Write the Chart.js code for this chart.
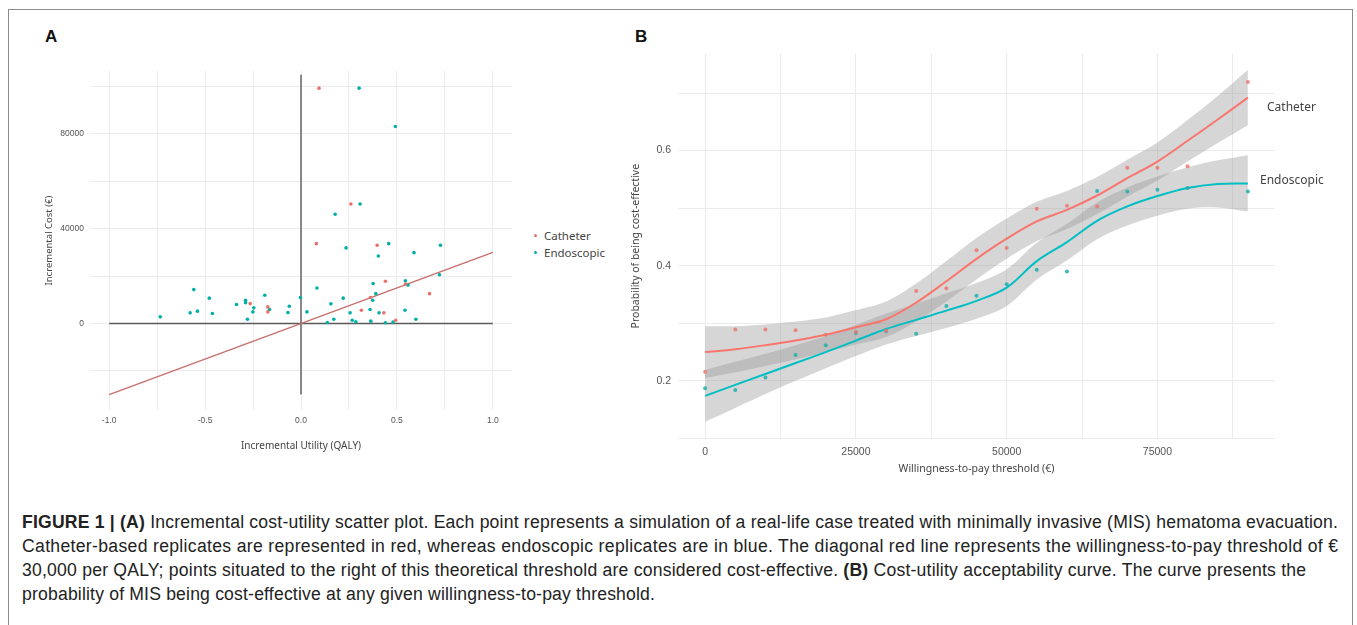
<!DOCTYPE html>
<html>
<head>
<meta charset="utf-8">
<script src="https://cdn.jsdelivr.net/npm/chart.js@4.4.1/dist/chart.umd.min.js"></script>
<style>
  html, body { margin: 0; padding: 0; background: #fff; }
  body { width: 1357px; height: 625px; overflow: hidden; position: relative; font-family: 'Liberation Sans', Arial, sans-serif; }
  .frame { position: absolute; left: 8px; top: 9px; width: 1345px; height: 640px; border: 1px solid #8c8c8c; box-sizing: border-box; }
  .tag { position: absolute; font: bold 17px 'Liberation Sans', Arial, sans-serif; color: #111; }
  .lbl { position: absolute; font-family: 'Noto Sans', sans-serif; color: #444; white-space: nowrap; line-height: 1; }
  .dot { position: absolute; width: 3px; height: 3px; border-radius: 50%; }
  .cap { position: absolute; left: 22px; font-size: 17.6px; color: #222; white-space: nowrap; line-height: 24px; }
  #boxA { position: absolute; left: 30px; top: 60px; width: 490px; height: 400px; }
  #boxB { position: absolute; left: 620px; top: 40px; width: 670px; height: 440px; }
</style>
</head>
<body>
<div class="frame"></div>
<div class="tag" style="left:45px; top:27px;">A</div>
<div class="tag" style="left:635px; top:27px;">B</div>

<div id="boxA"><canvas id="costChart"></canvas></div>
<div id="boxB"><canvas id="probChart"></canvas></div>

<!-- legenda do painel A -->
<div class="dot" style="left:534px; top:234px; background:#E8716B;"></div>
<div class="lbl" style="left:544px; top:230px; font-size:11.5px;">Catheter</div>
<div class="dot" style="left:534px; top:251px; background:#00B0A8;"></div>
<div class="lbl" style="left:544px; top:247px; font-size:11.5px;">Endoscopic</div>

<!-- rótulos diretos do painel B -->
<div class="lbl" style="left:1267px; top:101px; font-size:12px;">Catheter</div>
<div class="lbl" style="left:1260px; top:174px; font-size:12px;">Endoscopic</div>

<div class="cap" data-right="1338" style="top:510px;"><b>FIGURE 1 | (A)</b> Incremental cost-utility scatter plot. Each point represents a simulation of a real-life case treated with minimally invasive (MIS) hematoma evacuation.</div>
<div class="cap" data-right="1338" style="top:534px;">Catheter-based replicates are represented in red, whereas endoscopic replicates are in blue. The diagonal red line represents the willingness-to-pay threshold of €</div>
<div class="cap" data-right="1306" style="top:558px;">30,000 per QALY; points situated to the right of this theoretical threshold are considered cost-effective. <b>(B)</b> Cost-utility acceptability curve. The curve presents the</div>
<div class="cap" data-right="655" style="top:582px;">probability of MIS being cost-effective at any given willingness-to-pay threshold.</div>

<script>
// --- Painel A: dispersão custo-utilidade ---
const catUtil = [0.094, 0.26, 0.08, 0.397, 0.44, 0.545, 0.67, 0.362, -0.265, -0.173, -0.173, 0.315, 0.432, 0.494];
const catCost = [99300, 50400, 33700, 33000, 17800, 16600, 12600, 11000, 8400, 7000, 4900, 5600, 4500, 1400];

const endUtil = [0.303, 0.492, 0.308, 0.178, 0.235, 0.457, 0.727, 0.403, 0.589, 0.722, 0.376, 0.544,
  0.558, 0.083, 0.39, -0.559, -0.478, -0.189, -0.003, 0.22, 0.374, -0.289, -0.289, -0.336, -0.246,
  -0.061, 0.156, -0.164, -0.251, -0.54, -0.578, -0.462, -0.068, 0.031, 0.256, 0.36, 0.407, 0.542,
  -0.734, -0.279, 0.171, 0.267, 0.599, 0.364, 0.137, 0.286, 0.44, 0.48];
const endCost = [99300, 83100, 50400, 46100, 31900, 33700, 33000, 28500, 29900, 20600, 16900, 18000,
  16200, 15000, 12600, 14300, 10700, 11900, 11000, 10700, 9800, 9800, 8800, 8000, 6600,
  7300, 8300, 5900, 4900, 5200, 4500, 4200, 4600, 4900, 4500, 5900, 4500, 5600,
  2800, 1800, 1800, 1400, 1800, 1000, 400, 700, 300, 600];

// limiar de disposição a pagar (30 000 €/QALY) e eixos de referência
const wtpLineX = [-1, 1];
const wtpLineY = [-30000, 30000];
const hLineX = [-1, 1];
const hLineY = [0, 0];
const vLineX = [0, 0];
const vLineY = [-30000, 105000];

const utilGrid = [-1.0, -0.75, -0.5, -0.25, 0.0, 0.25, 0.5, 0.75, 1.0];
const utilTicks = [-1.0, -0.5, 0.0, 0.5, 1.0];
const costGrid = [-20000, 0, 20000, 40000, 60000, 80000, 100000];
const costTicks = [0, 40000, 80000];

// --- Painel B: curva de aceitabilidade ---
const wtp = [0, 5000, 10000, 15000, 20000, 25000, 30000, 35000, 40000, 45000, 50000,
  55000, 60000, 65000, 70000, 75000, 80000, 85000, 90000];
const catProb = [0.216, 0.289, 0.289, 0.288, 0.280, 0.285, 0.287, 0.356, 0.361, 0.427, 0.431,
  0.499, 0.504, 0.503, 0.570, 0.570, 0.573, null, 0.719];
const endProb = [0.187, 0.184, 0.206, 0.245, 0.262, 0.283, 0.286, 0.282, 0.330, 0.348, 0.368,
  0.393, 0.390, 0.530, 0.529, 0.532, 0.535, null, 0.529];

const catFit = [0.250, 0.255, 0.262, 0.270, 0.280, 0.293, 0.307, 0.336, 0.373, 0.412, 0.447,
  0.477, 0.497, 0.522, 0.552, 0.581, 0.617, 0.654, 0.692];
const catHi = [0.295, 0.295, 0.298, 0.303, 0.310, 0.323, 0.338, 0.369, 0.408, 0.448, 0.482,
  0.511, 0.530, 0.554, 0.584, 0.614, 0.653, 0.695, 0.740];
const catLo = [0.205, 0.215, 0.226, 0.237, 0.250, 0.263, 0.276, 0.303, 0.338, 0.376, 0.412,
  0.443, 0.464, 0.490, 0.520, 0.548, 0.581, 0.613, 0.644];

const endFit = [0.174, 0.193, 0.212, 0.231, 0.250, 0.270, 0.290, 0.306, 0.322, 0.339, 0.362,
  0.408, 0.441, 0.478, 0.503, 0.521, 0.535, 0.542, 0.543];
const endHi = [0.219, 0.233, 0.247, 0.262, 0.278, 0.297, 0.317, 0.334, 0.352, 0.370, 0.394,
  0.440, 0.473, 0.510, 0.536, 0.555, 0.571, 0.583, 0.592];
const endLo = [0.129, 0.153, 0.177, 0.200, 0.222, 0.243, 0.263, 0.278, 0.292, 0.308, 0.330,
  0.376, 0.409, 0.446, 0.470, 0.487, 0.499, 0.501, 0.494];

const probGrid = [0.1, 0.2, 0.3, 0.4, 0.5, 0.6, 0.7];
const probTicks = [0.2, 0.4, 0.6];
const wtpGrid = [0, 12500, 25000, 37500, 50000, 62500, 75000, 87500];
const wtpTicks = [0, 25000, 50000, 75000];

const red = '#F8766D';
const teal = '#00BFC4';
const gridColor = '#ececec';
const tickColor = '#555';
const titleColor = '#444';

const pts = (xs, ys) => xs.map((x, i) => ({ x: x, y: ys[i] })).filter(p => p.y !== null);
const near = (v, list) => list.some(t => Math.abs(t - v) < 1e-6);
const fixTicks = list => scale => { scale.ticks = list.map(v => ({ value: v })); };

Chart.defaults.animation = false;
Chart.defaults.plugins.tooltip.enabled = false;

/* --- 1. Dispersão (A) --- */
new Chart(document.getElementById('costChart'), {
  type: 'scatter',
  data: {
    datasets: [
      { data: pts(catUtil, catCost), backgroundColor: '#E8716B', borderWidth: 0, pointRadius: 1.8, order: 0 },
      { data: pts(endUtil, endCost), backgroundColor: '#00B0A8', borderWidth: 0, pointRadius: 1.8, order: 0 },
      { data: pts(wtpLineX, wtpLineY), showLine: true, borderColor: '#C8706E', borderWidth: 1.5, pointRadius: 0, order: 1 },
      { data: pts(hLineX, hLineY), showLine: true, borderColor: '#5a5a5a', borderWidth: 1.4, pointRadius: 0, order: 2 },
      { data: pts(vLineX, vLineY), showLine: true, borderColor: '#5a5a5a', borderWidth: 1.4, pointRadius: 0, order: 2 }
    ]
  },
  options: {
    responsive: true,
    maintainAspectRatio: false,
    layout: { padding: { left: 0, top: 11, right: 8, bottom: 0 } },
    plugins: { legend: { display: false } },
    scales: {
      x: {
        type: 'linear', min: -1.1, max: 1.1,
        border: { display: false },
        grid: { color: gridColor, drawTicks: false },
        afterBuildTicks: fixTicks(utilGrid),
        ticks: {
          padding: 6, maxRotation: 0, autoSkip: false,
          color: tickColor, font: { family: "'Liberation Sans', Arial, sans-serif", size: 8.5 },
          callback: v => near(v, utilTicks) ? v.toFixed(1) : ''
        },
        title: { display: true, text: 'Incremental Utility (QALY)', color: titleColor,
          font: { family: "'Noto Sans', sans-serif", size: 10 }, padding: { top: 0, bottom: 8 } },
        afterFit: s => { s.height = 50; }
      },
      y: {
        type: 'linear', min: -36500, max: 106500,
        border: { display: false },
        grid: { color: gridColor, drawTicks: false },
        afterBuildTicks: fixTicks(costGrid),
        ticks: {
          padding: 6, autoSkip: false,
          color: tickColor, font: { family: "'Liberation Sans', Arial, sans-serif", size: 8.5 },
          callback: v => near(v, costTicks) ? String(v) : ''
        },
        title: { display: true, text: 'Incremental Cost (€)', color: titleColor,
          font: { family: "'Noto Sans', sans-serif", size: 9.5 }, padding: { top: 14, bottom: 0 } },
        afterFit: s => { s.width = 60; }
      }
    }
  }
});

/* --- 2. Curva de aceitabilidade (B) --- */
const band = { borderWidth: 0, pointRadius: 0, tension: 0.35, backgroundColor: 'rgba(153,153,153,0.4)', order: 3 };

new Chart(document.getElementById('probChart'), {
  type: 'line',
  data: {
    datasets: [
      Object.assign({ data: pts(wtp, endLo), fill: false }, band),
      Object.assign({ data: pts(wtp, endHi), fill: '-1' }, band),
      Object.assign({ data: pts(wtp, catLo), fill: false }, band),
      Object.assign({ data: pts(wtp, catHi), fill: '-1' }, band),
      { data: pts(wtp, endFit), borderColor: teal, borderWidth: 2, pointRadius: 0, tension: 0.35, fill: false, order: 1 },
      { data: pts(wtp, catFit), borderColor: red, borderWidth: 2, pointRadius: 0, tension: 0.35, fill: false, order: 1 },
      { data: pts(wtp, catProb), showLine: false, backgroundColor: 'rgba(235,120,112,0.85)', borderWidth: 0, pointRadius: 2, order: 0 },
      { data: pts(wtp, endProb), showLine: false, backgroundColor: 'rgba(30,175,172,0.85)', borderWidth: 0, pointRadius: 2, order: 0 }
    ]
  },
  options: {
    responsive: true,
    maintainAspectRatio: false,
    layout: { padding: { left: 0, top: 13, right: 15, bottom: 0 } },
    plugins: { legend: { display: false }, filler: { drawTime: 'beforeDatasetsDraw' } },
    scales: {
      x: {
        type: 'linear', min: -4500, max: 94500,
        border: { display: false },
        grid: { color: gridColor, drawTicks: false },
        afterBuildTicks: fixTicks(wtpGrid),
        ticks: {
          padding: 7, maxRotation: 0, autoSkip: false,
          color: tickColor, font: { family: "'Liberation Sans', Arial, sans-serif", size: 10.5 },
          callback: v => near(v, wtpTicks) ? String(v) : ''
        },
        title: { display: true, text: 'Willingness-to-pay threshold (€)', color: titleColor,
          font: { family: "'Noto Sans', sans-serif", size: 10.5 }, padding: { top: 0, bottom: 5 } },
        afterFit: s => { s.height = 41; }
      },
      y: {
        type: 'linear', min: 0.099, max: 0.769,
        border: { display: false },
        grid: { color: gridColor, drawTicks: false },
        afterBuildTicks: fixTicks(probGrid),
        ticks: {
          padding: 7, autoSkip: false,
          color: tickColor, font: { family: "'Liberation Sans', Arial, sans-serif", size: 10.5 },
          callback: v => near(v, probTicks) ? v.toFixed(1) : ''
        },
        title: { display: true, text: 'Probability of being cost-effective', color: titleColor,
          font: { family: "'Noto Sans', sans-serif", size: 10.5 }, padding: { top: 10, bottom: 0 } },
        afterFit: s => { s.width = 58; }
      }
    }
  }
});

// ajusta o espaçamento das linhas da legenda à largura do original
document.querySelectorAll('.cap').forEach(el => {
  const target = Number(el.dataset.right) - 22;
  const w = el.getBoundingClientRect().width;
  const n = el.textContent.length;
  if (n > 1) el.style.letterSpacing = ((target - w) / (n - 1)).toFixed(3) + 'px';
});
</script>
</body>
</html>
